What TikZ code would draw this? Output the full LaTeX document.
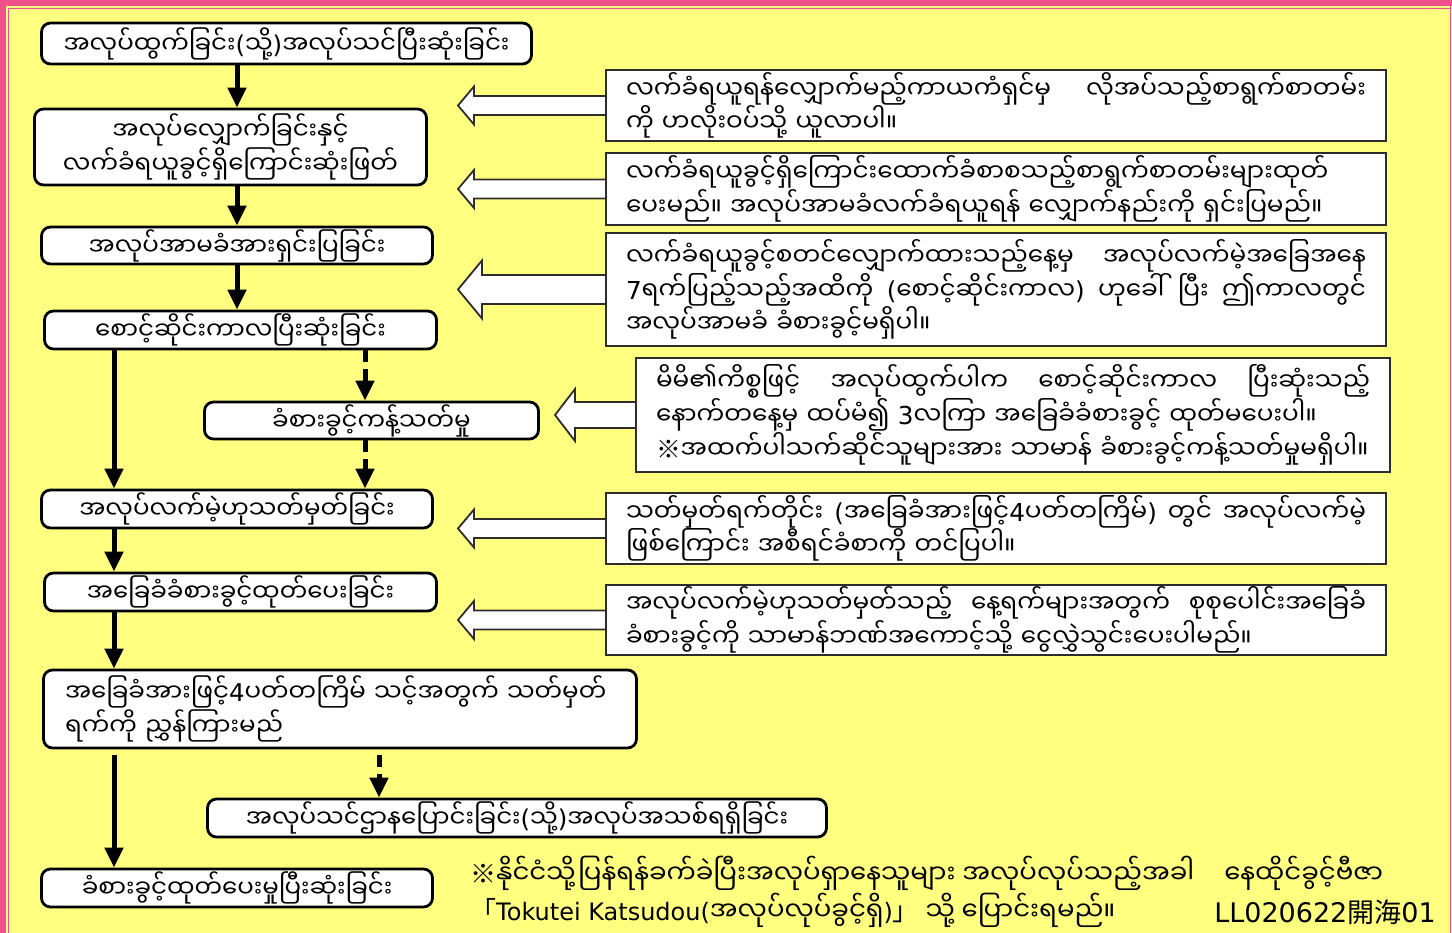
\documentclass[tikz,border=0pt]{standalone}
\usepackage{fontspec}
\setmainfont{DejaVu Sans}
\newfontfamily\my[Script=Myanmar]{Noto Sans Myanmar UI}
\newfontfamily\lat{DejaVu Sans}
\newfontfamily\cjk{Noto Sans CJK JP}
\usetikzlibrary{arrows.meta,calc}
\pgfdeclarelayer{bg}\pgfdeclarelayer{arr}
\pgfsetlayers{bg,arr,main}
\definecolor{bgyellow}{RGB}{255,255,128}
\definecolor{framepink}{RGB}{240,80,140}
\definecolor{boxgray}{RGB}{45,45,45}
\newcommand\Dg[1]{{\lat #1}}
\newcommand\Kj[1]{{\cjk #1}}
\newcommand\barrow[4]{%
  \draw[barr] let \p1=(#1.west) in
    (\x1,\y1+0.5*#3pt) -- (#2pt+#4pt,\y1+0.5*#3pt) -- (#2pt+#4pt,\y1+#3pt)
    -- (#2pt,\y1) -- (#2pt+#4pt,\y1-#3pt) -- (#2pt+#4pt,\y1-0.5*#3pt) -- (\x1,\y1-0.5*#3pt);}
\begin{document}
\begin{tikzpicture}[x=1pt,y=-1pt,
  lbox/.style={draw=black,line width=2.8pt,rounded corners=9pt,fill=white,inner sep=0pt,
    font=\my\fontsize{24.5}{32}\selectfont,align=center},
  rbox/.style={draw=boxgray,line width=1.8pt,fill=white,inner sep=0pt,
    font=\my\fontsize{24.7}{30.5}\selectfont,align=left},
  flow/.style={line width=5pt,-{Triangle[width=18pt,length=20pt]}},
  dflow/.style={flow,dash pattern=on 12pt off 7pt},
  barr/.style={draw=boxgray,line width=1.8pt,fill=white,line join=miter},
  foot/.style={inner sep=0pt,anchor=west,font=\my\fontsize{26}{30}\selectfont}]
\useasboundingbox (0,0) rectangle (1452,933);
\begin{pgfonlayer}{bg}
  \fill[bgyellow] (0,0) rectangle (1452,933);
  \fill[framepink] (0,0) rectangle (1452,6);
  \fill[framepink] (0,0) rectangle (6,933);
  \draw[framepink,line width=1.2pt] (8.5,933) -- (8.5,8.5) -- (1450.5,8.5);
  \draw[framepink,line width=1.5pt] (1450.5,0) -- (1450.5,933);
\end{pgfonlayer}

% left flow nodes
\node[lbox,minimum width=490pt,minimum height=41pt] (n1) at (286.5,43.5) {အလုပ်ထွက်ခြင်း\Dg{(}သို့\Dg{)}အလုပ်သင်ပြီးဆုံးခြင်း};
\node[lbox,minimum width=392pt,minimum height=76pt] (n2) at (230.5,147) {အလုပ်လျှောက်ခြင်းနှင့်\\လက်ခံရယူခွင့်ရှိကြောင်းဆုံးဖြတ်};
\node[lbox,minimum width=391pt,minimum height=37pt] (n3) at (237,245.5) {အလုပ်အာမခံအားရှင်းပြခြင်း};
\node[lbox,minimum width=392pt,minimum height=38pt] (n4) at (240.5,330) {စောင့်ဆိုင်းကာလပြီးဆုံးခြင်း};
\node[lbox,minimum width=334pt,minimum height=37pt] (n5) at (371.5,420.5) {ခံစားခွင့်ကန့်သတ်မှု};
\node[lbox,minimum width=391pt,minimum height=38pt] (n6) at (237,509) {အလုပ်လက်မဲ့ဟုသတ်မှတ်ခြင်း};
\node[lbox,minimum width=392pt,minimum height=38pt] (n7) at (240.5,592) {အခြေခံခံစားခွင့်ထုတ်ပေးခြင်း};
\node[lbox,minimum width=593pt,minimum height=78pt,text width=550pt,align=left] (n8) at (340,709) {အခြေခံအားဖြင့်\Dg{4}ပတ်တကြိမ် သင့်အတွက် သတ်မှတ်\\ရက်ကို ညွှန်ကြားမည်};
\node[lbox,minimum width=619pt,minimum height=38pt] (n9) at (517,818) {အလုပ်သင်ဌာနပြောင်းခြင်း\Dg{(}သို့\Dg{)}အလုပ်အသစ်ရရှိခြင်း};
\node[lbox,minimum width=391pt,minimum height=38pt] (n10) at (237,888) {ခံစားခွင့်ထုတ်ပေးမှုပြီးဆုံးခြင်း};

% right explanation boxes
\node[rbox,minimum width=780pt,minimum height=71pt,text width=740pt] (r1) at (996,105.5)
  {လက်ခံရယူရန်လျှောက်မည့်ကာယကံရှင်မှ\hfill လိုအပ်သည့်စာရွက်စာတမ်း\\ကို ဟလိုးဝပ်သို့ ယူလာပါ။};
\node[rbox,minimum width=780pt,minimum height=72pt,text width=740pt] (r2) at (996,189)
  {လက်ခံရယူခွင့်ရှိကြောင်းထောက်ခံစာစသည့်စာရွက်စာတမ်းများထုတ်\\ပေးမည်။ အလုပ်အာမခံလက်ခံရယူရန် လျှောက်နည်းကို ရှင်းပြမည်။};
\node[rbox,minimum width=780pt,minimum height=113pt,text width=740pt] (r3) at (996,289.5)
  {လက်ခံရယူခွင့်စတင်လျှောက်ထားသည့်နေ့မှ\hfill အလုပ်လက်မဲ့အခြေအနေ\\\Dg{7}ရက်ပြည့်သည့်အထိကို\hfill\Dg{(}စောင့်ဆိုင်းကာလ\Dg{)}\hfill ဟုခေါ်\hfill ပြီး\hfill ဤကာလတွင်\\အလုပ်အာမခံ ခံစားခွင့်မရှိပါ။};
\node[rbox,minimum width=754pt,minimum height=114pt,text width=714pt] (r4) at (1013,415)
  {မိမိ၏ကိစ္စဖြင့်\hfill အလုပ်ထွက်ပါက\hfill စောင့်ဆိုင်းကာလ\hfill ပြီးဆုံးသည့်\\နောက်တနေ့မှ ထပ်မံ၍ \Dg{3}လကြာ အခြေခံခံစားခွင့် ထုတ်မပေးပါ။\\\Kj{※}အထက်ပါသက်ဆိုင်သူများအား သာမာန် ခံစားခွင့်ကန့်သတ်မှုမရှိပါ။};
\node[rbox,minimum width=780pt,minimum height=71pt,text width=740pt] (r5) at (996,528.5)
  {သတ်မှတ်ရက်တိုင်း\hfill\Dg{(}အခြေခံအားဖြင့်\Dg{4}ပတ်တကြိမ်\Dg{)}\hfill တွင်\hfill အလုပ်လက်မဲ့\\ဖြစ်ကြောင်း အစီရင်ခံစာကို တင်ပြပါ။};
\node[rbox,minimum width=780pt,minimum height=70pt,text width=740pt] (r6) at (996,620)
  {အလုပ်လက်မဲ့ဟုသတ်မှတ်သည့်\hfill နေ့ရက်များအတွက်\hfill စုစုပေါင်းအခြေခံ\\ခံစားခွင့်ကို သာမာန်ဘဏ်အကောင့်သို့ ငွေလွှဲသွင်းပေးပါမည်။};

% block arrows pointing left
\begin{pgfonlayer}{arr}
  \barrow{r1}{458}{19}{16}
  \barrow{r2}{458}{19}{16}
  \barrow{r3}{458}{29}{24}
  \barrow{r4}{555}{26}{20}
  \barrow{r5}{458}{19}{16}
  \barrow{r6}{458}{19}{16}
\end{pgfonlayer}

% flow arrows
\coordinate (cA) at (114,0);
\coordinate (cB) at (237,0);
\coordinate (cC) at (365,0);
\coordinate (cD) at (379,0);
\draw[flow] (n1.south -| cB) -- (n2.north -| cB);
\draw[flow] (n2.south -| cB) -- (n3.north -| cB);
\draw[flow] (n3.south -| cB) -- (n4.north -| cB);
\draw[dflow] (n4.south -| cC) -- (n5.north -| cC);
\draw[dflow] (n5.south -| cC) -- (n6.north -| cC);
\draw[flow] (n4.south -| cA) -- (n6.north -| cA);
\draw[flow] (n6.south -| cA) -- (n7.north -| cA);
\draw[flow] (n7.south -| cA) -- (n8.north -| cA);
\draw[flow,shorten <=6pt] (n8.south -| cA) -- (n10.north -| cA);
\draw[dflow,shorten <=6pt] (n8.south -| cD) -- (n9.north -| cD);

% footer notes
\node[foot] (f1) at (470,873) {\Kj{※}နိုင်ငံသို့ပြန်ရန်ခက်ခဲပြီးအလုပ်ရှာနေသူများ အလုပ်လုပ်သည့်အခါ\hspace{30pt}နေထိုင်ခွင့်ဗီဇာ};
\node[foot] (f2) at (470,910) {\Kj{「}{\fontsize{24}{30}\selectfont\Dg{Tokutei Katsudou(}}အလုပ်လုပ်ခွင့်ရှိ{\fontsize{24}{30}\selectfont\Dg{)}}\Kj{」} သို့ ပြောင်းရမည်။};
\node[foot,anchor=east,font=\fontsize{27}{30}\selectfont] (code) at (1436,912) {\Dg{LL020622}\Kj{開海}\Dg{01}};
\end{tikzpicture}
\end{document}
